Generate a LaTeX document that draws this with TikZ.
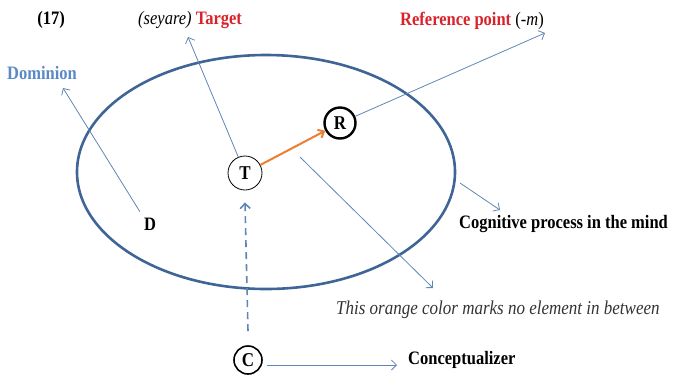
\documentclass[tikz,border=0pt]{standalone}
\usepackage{fontspec}
\setmainfont{Liberation Serif}
\usetikzlibrary{arrows.meta,shapes.geometric}
\definecolor{ellblue}{HTML}{3E6596}
\definecolor{arrblue}{HTML}{5F86B4}
\definecolor{domblue}{HTML}{5A8AC6}
\definecolor{tred}{HTML}{D9232B}
\definecolor{torange}{HTML}{ED7D31}
\newcommand{\tall}[1]{\scalebox{1}[1.15]{#1}}
\tikzset{
  thinarrow/.style={draw=arrblue, line width=0.8pt, -{Straight Barb[length=5pt,width=10pt]}},
  circ/.style={circle, draw=black, inner sep=0pt, font=\fontsize{17}{19}\selectfont\bfseries},
  lbl/.style={font=\fontsize{16.5}{19}\selectfont\bfseries, inner sep=0pt},
}
\begin{document}
\begin{tikzpicture}[x=1pt,y=-1pt]
\useasboundingbox (0,0) rectangle (673,376);
% ellipse
\node[ellipse, draw=ellblue, line width=2.6pt, minimum width=378pt, minimum height=234pt] (E) at (266,172) {};
% circles
\node[circ, line width=0.8pt, minimum size=34pt] (T) at (245,173) {\tall{T}};
\node[circ, line width=2.4pt, minimum size=31pt] (R) at (340,123) {\tall{R}};
\node[circ, line width=1.6pt, minimum size=28pt] (C) at (248,360) {\tall{C}};
\node[lbl] (D) at (150,224) {\tall{D}};
% labels
\node[lbl] (n17) at (51,20) {\tall{(17)}};
\node[lbl, anchor=west] (tgt) at (138,20) {\tall{\mdseries\itshape(seyare) \upshape\bfseries\textcolor{tred}{Target}}};
\node[lbl, anchor=west, text=domblue] (dom) at (7,73) {\tall{Dominion}};
\node[lbl, anchor=west] (ref) at (400,21) {\tall{\textcolor{tred}{Reference point} \mdseries(-\textit{m})}};
\node[lbl, anchor=west] (cog) at (459,224) {\tall{Cognitive process in the mind}};
\node[lbl, anchor=west, font=\fontsize{17}{19}\selectfont\itshape, text=black!80] (orn) at (336,310) {\tall{This orange color marks no element in between}};
\node[lbl, anchor=west] (con) at (408,360) {\tall{Conceptualizer}};
% free ends
\coordinate (domtip) at (63,88);
\coordinate (tgttip) at (188,37);
\coordinate (reftip) at (545,33);
\coordinate (orntip) at (433,288);
\coordinate (orns) at (300,157);
\coordinate (cogs) at (460,183);
\coordinate (cogtip) at (500,210);
\coordinate (contip) at (397,365);
% connectors
\draw[thinarrow] (D.north west) ++(-4,-6) -- (domtip);
\draw[thinarrow] (T) -- (tgttip);
\draw[thinarrow] (R) -- (reftip);
\draw[thinarrow] (orns) -- (orntip);
\draw[thinarrow] (cogs) -- (cogtip);
\draw[thinarrow] (C.east) ++(4,5) -- (contip);
\draw[draw=torange, line width=2pt, -{Straight Barb[length=5pt,width=9pt]}] (T) -- (R);
\draw[draw=arrblue, line width=1.6pt, dash pattern=on 7pt off 5pt, -{Straight Barb[length=5pt,width=10pt]}] ([yshift=14pt]C.north) -- ([yshift=-12pt]T.south);
\end{tikzpicture}
\end{document}
